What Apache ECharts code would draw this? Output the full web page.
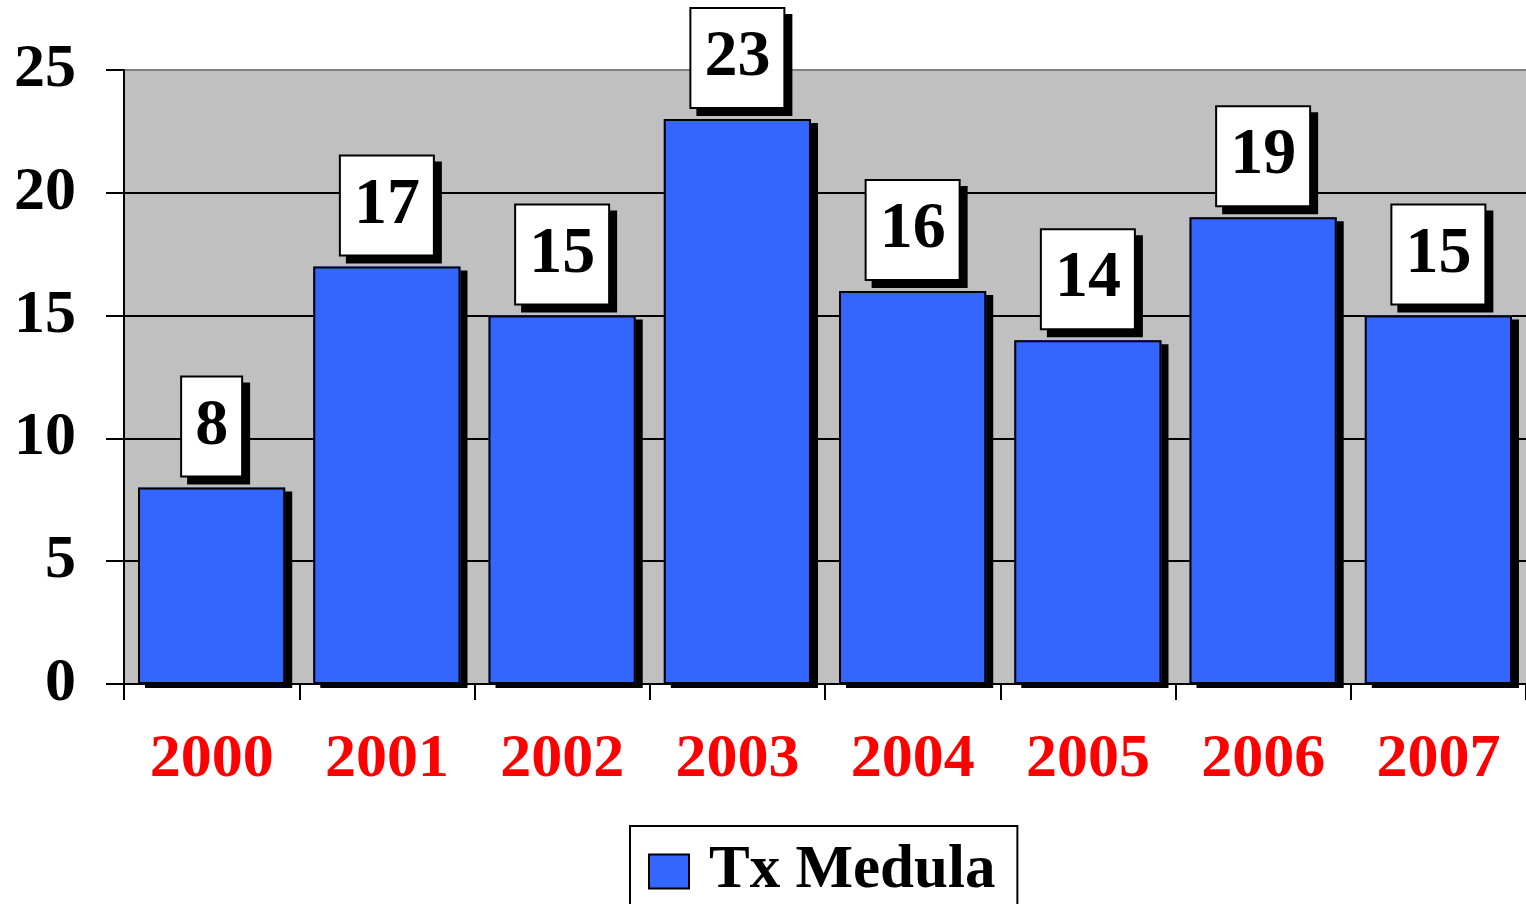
<!DOCTYPE html>
<html>
<head>
<meta charset="utf-8">
<script src="https://cdn.jsdelivr.net/npm/echarts@6/dist/echarts.min.js"></script>
<style>html,body{margin:0;padding:0;background:#fff}#c{width:1526px;height:904px}</style>
</head>
<body>
<div id="c"></div>
<script>
const years = ["2000","2001","2002","2003","2004","2005","2006","2007"]
const txMedula = [8,17,15,23,16,14,19,15]
const seriesName = "Tx Medula"
const serif = "'Liberation Serif','Times New Roman',serif"

const chart = echarts.init(document.getElementById("c"))
chart.setOption({
  animation:false,
  textStyle:{fontFamily:serif},
  grid:{left:124,right:-3,top:70,bottom:220,show:true,backgroundColor:"#c0c0c0",borderWidth:0},
  legend:{
    data:[seriesName],left:630,top:826,icon:"rect",
    backgroundColor:"#fff",borderColor:"#000",borderWidth:2,
    padding:[15,22,40,18],itemWidth:40,itemHeight:34,
    itemStyle:{color:"#3366ff",borderColor:"#000",borderWidth:2,shadowColor:"transparent",shadowBlur:0,shadowOffsetX:0,shadowOffsetY:0},
    textStyle:{fontFamily:serif,fontWeight:"bold",fontSize:61,color:"#000",padding:[0,0,0,15]}
  },
  xAxis:{
    type:"category",data:years,
    axisLine:{lineStyle:{color:"#000",width:2}},
    axisTick:{show:true,inside:false,length:16,lineStyle:{color:"#000",width:2}},
    axisLabel:{margin:45,color:"#ff0000",fontFamily:serif,fontWeight:"bold",fontSize:62}
  },
  yAxis:{
    type:"value",min:0,max:25,interval:5,
    axisLine:{show:true,lineStyle:{color:"#000",width:2}},
    axisTick:{show:true,length:18,lineStyle:{color:"#000",width:2}},
    axisLabel:{margin:48,color:"#000",fontFamily:serif,fontWeight:"bold",fontSize:62},
    splitLine:{lineStyle:{color:["#000","#000","#000","#000","#000","#808080"],width:2}}
  },
  series:[{
    // filled bar with its drop shadow
    name:seriesName,type:"bar",data:txMedula,barWidth:"84%",
    itemStyle:{color:"#3366ff",borderWidth:0,shadowColor:"#000",shadowBlur:0,shadowOffsetX:7,shadowOffsetY:4},
    label:{
      show:true,position:"top",distance:12,
      color:"#000",fontFamily:serif,fontWeight:"bold",fontSize:66,lineHeight:62,
      backgroundColor:"#fff",borderColor:"#000",borderWidth:2,padding:[18,13,18,13],
      shadowColor:"#000",shadowBlur:0,shadowOffsetX:7,shadowOffsetY:7
    }
  },{
    // outline drawn over the same bars, no shadow
    name:"outline",type:"bar",data:txMedula,barWidth:"84%",barGap:"-100%",silent:true,
    itemStyle:{color:"transparent",borderColor:"#000",borderWidth:2}
  }]
})
</script>
</body>
</html>
